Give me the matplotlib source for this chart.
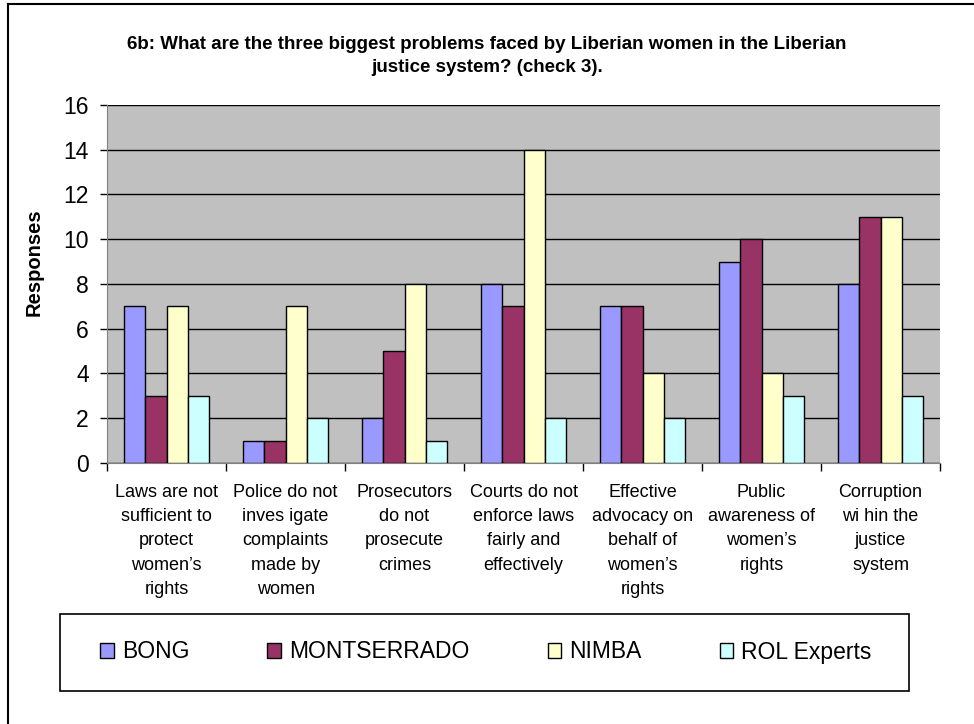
import matplotlib.pyplot as plt
import numpy as np
from matplotlib.lines import Line2D
from matplotlib.patches import Rectangle

plt.rcParams['font.family'] = ['Liberation Sans', 'DejaVu Sans']

categories = [
    "Laws are not\nsufficient to\nprotect\nwomen\u2019s\nrights",
    "Police do not\ninves igate\ncomplaints\nmade by\nwomen",
    "Prosecutors\ndo not\nprosecute\ncrimes",
    "Courts do not\nenforce laws\nfairly and\neffectively",
    "Effective\nadvocacy on\nbehalf of\nwomen\u2019s\nrights",
    "Public\nawareness of\nwomen\u2019s\nrights",
    "Corruption\nwi hin the\njustice\nsystem",
]
series_names = ["BONG", "MONTSERRADO", "NIMBA", "ROL Experts"]
bong = [7, 1, 2, 8, 7, 9, 8]
montserrado = [3, 1, 5, 7, 7, 10, 11]
nimba = [7, 7, 8, 14, 4, 4, 11]
rol_experts = [3, 2, 1, 2, 2, 3, 3]
colors = ["#9999FF", "#993366", "#FFFFCC", "#CCFFFF"]

fig = plt.figure(figsize=(9.74, 7.24), dpi=100)
ax = fig.add_axes([0.1099, 0.3605, 0.8552, 0.4945])
ax.set_facecolor("#C0C0C0")

x = np.arange(len(categories))
width = 0.18
handles = []
for i, (vals, name) in enumerate(zip([bong, montserrado, nimba, rol_experts], series_names)):
    b = ax.bar(x + (i - 1.5) * width, vals, width, color=colors[i],
               edgecolor="black", linewidth=1, label=name, zorder=3)
    handles.append(b)

ax.set_xlim(-0.5, len(categories) - 0.5)
ax.set_ylim(0, 16)
ax.set_yticks(range(0, 17, 2))
ax.yaxis.grid(True, color="black", linewidth=1, zorder=1)
ax.tick_params(axis="y", labelsize=16.5, direction="out", length=5, width=1, pad=8)
ax.set_xticks(np.arange(len(categories) + 1) - 0.5)
ax.set_xticklabels([])
ax.tick_params(axis="x", direction="out", length=6, width=1)
for xi, lab in zip(x, categories):
    ax.text(xi, -0.93, lab, ha="center", va="top", fontsize=13,
            linespacing=1.56)
for s in ["top", "right"]:
    ax.spines[s].set_visible(False)
ax.spines["left"].set_color("#808080")
ax.spines["bottom"].set_color("#808080")
ax.set_ylabel("Responses", fontsize=14.5, fontweight="bold")
ax.yaxis.set_label_coords(-0.076, 0.56)

fig.text(0.5, 1 - 56 / 724, "6b: What are the three biggest problems faced by Liberian women in the Liberian\njustice system? (check 3).",
         ha="center", va="center", fontsize=13.5, fontweight="bold", linespacing=1.4)

# legend box
fig.add_artist(Rectangle((60 / 974, 1 - 691 / 724), 849 / 974, 77 / 724,
                         transform=fig.transFigure, facecolor="white",
                         edgecolor="black", linewidth=1.2))
leg = fig.legend(handles=handles, loc="center", ncol=4,
                 bbox_to_anchor=(486 / 974, 1 - 652 / 724), frameon=False,
                 fontsize=16.5, handlelength=0.6, handleheight=0.6,
                 handletextpad=0.35, columnspacing=3.4)

# outer border
fig.add_artist(Line2D([8 / 974, 8 / 974], [0, 1 - 4 / 724], transform=fig.transFigure,
                      color="black", linewidth=1.5))
fig.add_artist(Line2D([8 / 974, 1], [1 - 4 / 724, 1 - 4 / 724], transform=fig.transFigure,
                      color="black", linewidth=1.5))

fig.savefig("out.png", dpi=100)
